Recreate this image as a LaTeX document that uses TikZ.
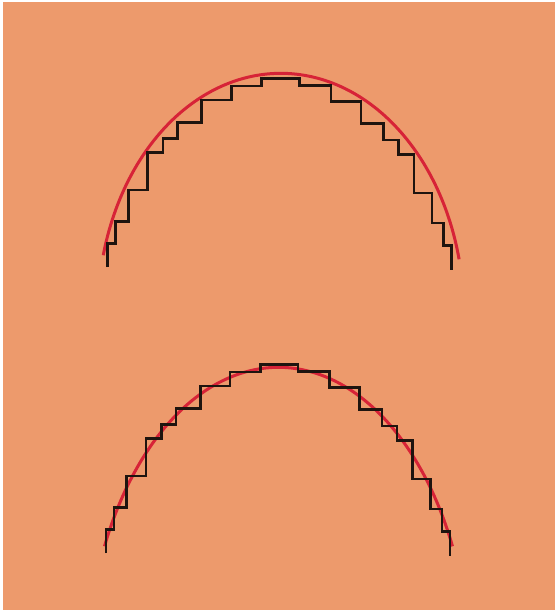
\documentclass[tikz,border=0pt]{standalone}
\begin{document}
\begin{tikzpicture}[x=1pt,y=-1pt,
  stair/.style={draw={rgb,255:red,30;green,20;blue,15},line width=2.6pt,line join=miter},
  curve/.style={draw={rgb,255:red,215;green,35;blue,55},line width=3pt}]
\definecolor{paper}{RGB}{237,154,108}
\useasboundingbox (0,0) rectangle (555,610);
\fill[white] (0,0) rectangle (555,610);
\fill[paper] (2.5,2.5) rectangle (555,610);
% top curve
\draw[curve] plot[domain=166:13,samples=120] ({280.8+183*cos(\x)},{313.3-240*sin(\x)});
% bottom curve
\draw[curve] plot[domain=155:25,samples=120] ({278.5+192*cos(\x)},{677.3-310*sin(\x)});
% top staircase
\draw[stair] (107.5,267) -- (107.5,243.3) -- (115.3,243.3) -- (115.3,221.5) -- (128.2,221.5)
  -- (128.2,190) -- (147.5,190) -- (147.5,152.5) -- (163,152.5) -- (163,138.2) -- (177.5,138.2)
  -- (177.5,122.5) -- (201.7,122.5) -- (201.7,100) -- (231.3,100) -- (231.3,85.8) -- (261.7,85.8)
  -- (261.7,78.7) -- (299.5,78.7) -- (299.5,85.3) -- (331,85.3) -- (331,101.5) -- (361,101.5)
  -- (361,123.7) -- (383.3,123.7) -- (383.3,140) -- (398.3,140) -- (398.3,154.2) -- (414,154.2)
  -- (414,192.8) -- (432,192.8) -- (432,222.8) -- (443.3,222.8) -- (443.3,245.3) -- (451.3,245.3)
  -- (451.3,269.5);
% bottom staircase
\begin{scope}[shift={(-1.5,286)}]
\draw[stair] (107.5,267) -- (107.5,243.3) -- (115.3,243.3) -- (115.3,221.5) -- (128.2,221.5)
  -- (128.2,190) -- (147.5,190) -- (147.5,152.5) -- (163,152.5) -- (163,138.2) -- (177.5,138.2)
  -- (177.5,122.5) -- (201.7,122.5) -- (201.7,100) -- (231.3,100) -- (231.3,85.8) -- (261.7,85.8)
  -- (261.7,78.7) -- (299.5,78.7) -- (299.5,85.3) -- (331,85.3) -- (331,101.5) -- (361,101.5)
  -- (361,123.7) -- (383.3,123.7) -- (383.3,140) -- (398.3,140) -- (398.3,154.2) -- (414,154.2)
  -- (414,192.8) -- (432,192.8) -- (432,222.8) -- (443.3,222.8) -- (443.3,245.3) -- (451.3,245.3)
  -- (451.3,269.5);
\end{scope}
\end{tikzpicture}
\end{document}
